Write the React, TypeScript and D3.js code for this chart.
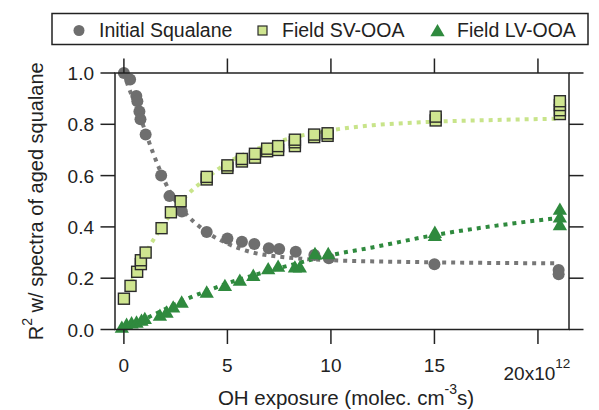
import { useEffect } from "react";
import * as d3 from "d3";

// OH exposure in units of 1e12 molec cm^-3 s
const squX = [0, 0.3, 0.6, 0.65, 0.75, 0.8, 1.05, 1.8, 2.2, 2.8, 4.0, 5.0, 5.7, 6.3, 7.0, 7.5, 8.3, 9.2, 9.9, 15.0, 21.0, 21.0];
const squY = [1.0, 0.975, 0.91, 0.89, 0.85, 0.82, 0.76, 0.6, 0.52, 0.46, 0.38, 0.355, 0.342, 0.333, 0.317, 0.314, 0.303, 0.29, 0.278, 0.254, 0.232, 0.215];

const svX = [0, 0.32, 0.64, 0.82, 0.82, 1.05, 1.82, 2.27, 2.74, 4.0, 4.0, 5.0, 5.0, 5.7, 5.7, 6.33, 6.33, 6.92, 6.92, 7.45, 7.45, 8.26, 8.26, 8.26, 9.19, 9.19, 9.84, 9.84, 15.06, 15.06, 21.06, 21.06, 21.06, 21.06];
const svY = [0.12, 0.17, 0.225, 0.255, 0.27, 0.3, 0.395, 0.457, 0.5, 0.585, 0.595, 0.63, 0.64, 0.655, 0.665, 0.67, 0.685, 0.695, 0.705, 0.7, 0.715, 0.715, 0.73, 0.74, 0.75, 0.76, 0.755, 0.765, 0.815, 0.83, 0.84, 0.855, 0.875, 0.89];

const lvX = [-0.1, 0.13, 0.37, 0.61, 0.85, 1.01, 1.74, 2.06, 2.38, 2.79, 4.0, 4.88, 5.6, 6.25, 6.97, 7.45, 8.26, 8.5, 9.23, 9.87, 15.02, 15.02, 21.06, 21.06, 21.06];
const lvY = [0.01, 0.021, 0.027, 0.03, 0.037, 0.044, 0.057, 0.069, 0.089, 0.108, 0.147, 0.173, 0.193, 0.212, 0.238, 0.248, 0.245, 0.245, 0.297, 0.297, 0.368, 0.38, 0.41, 0.44, 0.47];

// fitted curves
const fitSquX = [0, 0.2, 0.6, 1.0, 1.4, 1.8, 2.2, 2.8, 4, 5, 6, 8, 10, 15, 21];
const fitSquY = [1.0, 0.95, 0.87, 0.78, 0.69, 0.61, 0.54, 0.47, 0.38, 0.335, 0.305, 0.28, 0.27, 0.262, 0.258];
const fitSvX = [0, 1, 2, 3, 4, 5, 6, 7, 8, 10, 12, 15, 18, 21];
const fitSvY = [0.12, 0.29, 0.42, 0.52, 0.59, 0.65, 0.69, 0.72, 0.745, 0.777, 0.796, 0.81, 0.817, 0.822];
const fitLvX = [0, 1, 2, 3, 4, 5, 6, 8, 10, 12, 15, 18, 21];
const fitLvY = [0, 0.04, 0.08, 0.118, 0.15, 0.18, 0.205, 0.25, 0.29, 0.32, 0.368, 0.405, 0.435];

const xTicks = [0, 5, 10, 15, 20];
const yTicks = [0, 0.2, 0.4, 0.6, 0.8, 1.0];
const legendLabels = ["Initial Squalane", "Field SV-OOA", "Field LV-OOA"];

const GREY = "#6e6e6e";
const GREY_LINE = "#777777";
const LIGHT = "#cfe590";
const LIGHT_LINE = "#c8e48a";
const DARK = "#2f8a3e";
const FONT = "'Liberation Sans', Arial, Helvetica, sans-serif";

const W = 599;
const H = 410;
const left = 115, right = 569, top = 73, bottom = 329.5;

export default function App() {
  useEffect(() => {
    document.body.style.margin = "0";
  }, []);

  const x = d3.scaleLinear().domain([-0.43, 21.5]).range([left, right]);
  const y = d3.scaleLinear().domain([0, 1]).range([bottom, top]);
  const line = d3
    .line<[number, number]>()
    .x((d) => x(d[0]))
    .y((d) => y(d[1]))
    .curve(d3.curveMonotoneX);

  const fits = [
    { xs: fitSquX, ys: fitSquY, c: GREY_LINE },
    { xs: fitSvX, ys: fitSvY, c: LIGHT_LINE },
    { xs: fitLvX, ys: fitLvY, c: DARK },
  ];

  const tri = (cx: number, cy: number, s: number) =>
    `M${cx},${cy - s * 0.5}L${cx + s * 0.55},${cy + s * 0.45}L${cx - s * 0.55},${cy + s * 0.45}Z`;

  const tickLen = 14.5;

  return (
    <svg width={W} height={H} style={{ display: "block", background: "#fff" }} fontFamily={FONT}>
      {/* fit curves */}
      {fits.map((f, i) => (
        <path
          key={i}
          d={line(f.xs.map((v, j) => [v, f.ys[j]] as [number, number])) || ""}
          fill="none"
          stroke={f.c}
          strokeWidth={4}
          strokeDasharray="4 5"
        />
      ))}

      {/* initial squalane */}
      {squX.map((v, i) => (
        <circle key={"c" + i} cx={x(v)} cy={y(squY[i])} r={6} fill={GREY} />
      ))}
      {/* field SV-OOA */}
      {svX.map((v, i) => (
        <rect
          key={"s" + i}
          x={x(v) - 5.5}
          y={y(svY[i]) - 5.5}
          width={11}
          height={11}
          fill={LIGHT}
          stroke="#2b2b2b"
          strokeWidth={1.4}
        />
      ))}
      {/* field LV-OOA */}
      {lvX.map((v, i) => (
        <path key={"t" + i} d={tri(x(v), y(lvY[i]), 13)} fill={DARK} />
      ))}

      {/* frame */}
      <rect x={left} y={top} width={right - left} height={bottom - top} fill="none" stroke="#222" strokeWidth={1.5} />

      {/* y ticks, both sides */}
      {yTicks.map((t) => (
        <g key={"y" + t}>
          <line x1={left - tickLen} x2={left} y1={y(t)} y2={y(t)} stroke="#222" strokeWidth={1.5} />
          <line x1={right} x2={right + tickLen} y1={y(t)} y2={y(t)} stroke="#222" strokeWidth={1.5} />
          <text x={94} y={y(t) + 7} textAnchor="end" fontSize={19} fill="#222">
            {d3.format(".1f")(t)}
          </text>
        </g>
      ))}

      {/* x ticks, both sides */}
      {xTicks.map((t) => (
        <g key={"x" + t}>
          <line x1={x(t)} x2={x(t)} y1={bottom} y2={bottom + tickLen} stroke="#222" strokeWidth={1.5} />
          <line x1={x(t)} x2={x(t)} y1={top - tickLen} y2={top} stroke="#222" strokeWidth={1.5} />
          {t === 20 ? (
            <text x={x(t) - 1} y={380} textAnchor="middle" fontSize={19} fill="#222">
              20x10
              <tspan fontSize={13.5} dy={-12}>12</tspan>
            </text>
          ) : (
            <text x={x(t)} y={372} textAnchor="middle" fontSize={19} fill="#222">
              {t}
            </text>
          )}
        </g>
      ))}

      {/* axis titles */}
      <text x={346} y={405} textAnchor="middle" fontSize={20.5} fill="#222">
        OH exposure (molec. cm
        <tspan fontSize={14} dy={-11}>-3</tspan>
        <tspan dy={11}>s)</tspan>
      </text>
      <text transform={`translate(43,${(top + bottom) / 2}) rotate(-90)`} textAnchor="middle" fontSize={20} fill="#222">
        R<tspan fontSize={14} dy={-11}>2</tspan>
        <tspan dy={11}> w/ spectra of aged squalane</tspan>
      </text>

      {/* legend */}
      <rect x={52} y={13.5} width={536} height={31} fill="#fff" stroke="#222" strokeWidth={1.5} />
      <circle cx={79} cy={30.5} r={5.5} fill={GREY} />
      <rect x={258} y={26} width={9} height={9} fill={LIGHT} stroke="#2b2b2b" strokeWidth={1.2} />
      <path d={tri(437.5, 30.5, 13)} fill={DARK} />
      <text x={99} y={37} fontSize={19.5} fill="#222">{legendLabels[0]}</text>
      <text x={282} y={37} fontSize={19.5} fill="#222">{legendLabels[1]}</text>
      <text x={457} y={37} fontSize={19.5} fill="#222">{legendLabels[2]}</text>
    </svg>
  );
}
